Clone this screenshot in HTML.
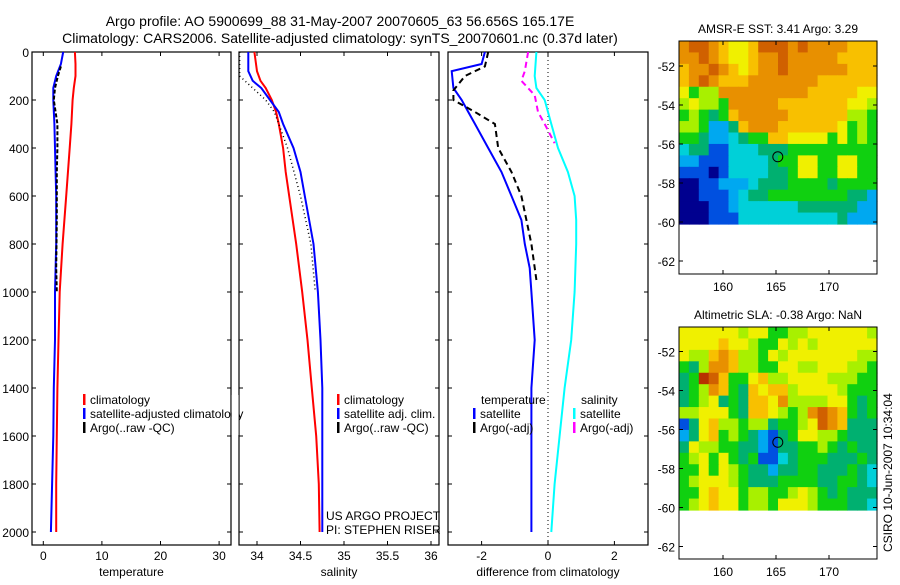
<!DOCTYPE html>
<html><head><meta charset="utf-8"><style>
body{margin:0;background:#fff;width:900px;height:580px;overflow:hidden}
svg{font-family:"Liberation Sans",sans-serif}
</style></head><body>
<svg id="c" width="900" height="580" xmlns="http://www.w3.org/2000/svg">
<text x="340" y="26" font-size="14" text-anchor="middle">Argo profile: AO 5900699_88 31-May-2007 20070605_63 56.656S 165.17E</text>
<text x="340" y="43" font-size="14" text-anchor="middle">Climatology: CARS2006. Satellite-adjusted climatology: synTS_20070601.nc (0.37d later)</text>
</svg>
<script>
// ---- data ----
const tDepth=[0,50,100,150,200,300,400,600,800,1000,1200,1400,1600,1800,2000];
const tClim=[5.4,5.5,5.5,5.2,5.0,4.8,4.5,3.9,3.3,2.8,2.6,2.4,2.3,2.2,2.2];
const tSat=[3.4,3.0,2.2,1.7,1.7,1.9,2.0,2.2,2.2,2.0,2.0,1.8,1.7,1.5,1.3];
const tArgoDepth=[60,100,150,200,300,400,500,700,900,1000];
const tArgo=[3.0,2.5,2.0,1.8,2.4,2.4,2.3,2.3,2.2,2.3];
const sDepth=[0,80,120,150,200,250,300,400,500,600,800,1000,1200,1400,1600,1800,2000];
const sClim=[33.97,34.0,34.04,34.1,34.17,34.22,34.25,34.3,34.33,34.37,34.45,34.52,34.58,34.63,34.68,34.71,34.72];
const sSat=[33.9,33.9,33.95,34.05,34.15,34.25,34.3,34.42,34.5,34.55,34.65,34.7,34.73,34.75,34.75,34.75,34.75];
const sArgoDepth=[0,100,150,200,250,300,400,600,800,1000];
const sArgo=[33.8,33.8,33.95,34.1,34.2,34.25,34.35,34.5,34.62,34.67];
const dDepth=[0,50,80,150,200,250,300,400,500,600,700,800,900,1000,1200,1400,2000];
const dTSat=[-1.9,-2.0,-2.9,-2.85,-2.6,-2.4,-2.2,-1.8,-1.4,-1.1,-0.8,-0.7,-0.55,-0.5,-0.4,-0.5,-0.5];
const dTArgoDepth=[0,60,100,160,200,250,300,400,500,600,700,800,950];
const dTArgo=[-1.8,-1.9,-2.5,-2.85,-2.85,-2.2,-1.6,-1.5,-1.1,-0.8,-0.65,-0.5,-0.35];
const dSDepth=[0,100,150,200,300,400,500,600,700,800,1000,1200,1400,1600,1800,2000];
const dSSat=[-0.35,-0.4,-0.35,-0.1,0.1,0.3,0.6,0.8,0.85,0.85,0.8,0.7,0.5,0.35,0.2,0.1];
const dSArgoDepth=[0,80,120,180,250,300,380];
const dSArgo=[-0.6,-0.7,-0.8,-0.4,-0.3,-0.1,0.2];
const depthTicks=[0,200,400,600,800,1000,1200,1400,1600,1800,2000];
const tTicks=[0,10,20,30];
const sTicks=[34,34.5,35,35.5,36];
const dTicks=[-2,0,2];
const latTicks=[-52,-54,-56,-58,-60,-62];
const lonTicks=[160,165,170];
const sstGrid=["9AA98778AAA9A9999888","99A9877899A999998888","899A987899A999999888","89A98889999999888888","75669999999998888877","67665999998888888776","56545899999888888665","66522489998888887565","55422345588777757565","34411333444555555555","22111333345577557755","11101333344577557755","00112223444555545555","00111234455555555442","00011233333344444422","00011133333333334222"];
const slaGrid=["77777767755667777776","77778776557676777777","76689866576777777766","54699866557766777665","45BA8557866777766655","45698548788677776555","45674548879666677545","66777548876569A98545","14786656645567A98444","24785654214577665444","47665544214455654544","56757545113455544454","55757654424455444543","56777654445555445543","55787756655676545444","56787756657776555443"];
const cmap=["#00008f","#0050e0","#00a8f0","#00d0d8","#00b070","#10d010","#a8f000","#f0f000","#f8c000","#e89000","#d06000","#b83000"];
// ---- drawing ----
const svg=document.getElementById('c');const NS="http://www.w3.org/2000/svg";
function el(tag,attrs,parent){const e=document.createElementNS(NS,tag);for(const k in attrs)e.setAttribute(k,attrs[k]);(parent||svg).appendChild(e);return e;}
function txt(x,y,s,size,anchor,name){const t=el('text',{x:x,y:y,'font-size':size,'text-anchor':anchor||'start'});t.textContent=s;


return t;}
const yD=d=>52+d*0.24;
const FB=545;
function panel(x0,x1,xs,ticks,label,name,showY){
 const r=el('rect',{x:x0,y:52,width:x1-x0,height:FB-52,fill:'none',stroke:'#000','stroke-width':1.2});
 
 
 depthTicks.forEach(d=>{el('line',{x1:x0,x2:x0+4,y1:yD(d),y2:yD(d),stroke:'#000'});el('line',{x1:x1,x2:x1-4,y1:yD(d),y2:yD(d),stroke:'#000'});
  if(showY)txt(x0-3,yD(d)+5,String(d),12,'end','depth-tick-label');});
 ticks.forEach(v=>{const x=xs(v);el('line',{x1:x,x2:x,y1:FB,y2:FB-4,stroke:'#000'});el('line',{x1:x,x2:x,y1:52,y2:56,stroke:'#000'});
  txt(x,560,String(v),12,'middle','x-tick-label');});
 txt((x0+x1)/2,576,label,12,'middle',name+'-x-axis-title');
}
function line(xs,vals,deps,color,w,dash,name){
 const p=vals.map((v,i)=>(i?'L':'M')+xs(v).toFixed(1)+' '+yD(deps[i]).toFixed(1)).join(' ');
 const a={d:p,fill:'none',stroke:color,'stroke-width':w};if(dash)a['stroke-dasharray']=dash;
 const e=el('path',a);
 
 
}
const xT=t=>43.3+t*5.86, xS=s=>257+(s-34)*87, xD=d=>548+d*33.2;
panel(32,231,xT,tTicks,'temperature','temperature-panel',true);
panel(239,439,xS,sTicks,'salinity','salinity-panel',false);
panel(448,648,xD,dTicks,'difference from climatology','difference-panel',false);
el('line',{x1:xD(0),x2:xD(0),y1:52,y2:FB,stroke:'#000','stroke-dasharray':'1 3'});
line(xT,tClim,tDepth,'#f00',2,null,'temp-climatology-line');
line(xT,tSat,tDepth,'#00f',2,null,'temp-satellite-line');
line(xT,tArgo,tArgoDepth,'#000',2,'4 2','temp-argo-line');
line(xS,sClim,sDepth,'#f00',2,null,'sal-climatology-line');
line(xS,sSat,sDepth,'#00f',2,null,'sal-satellite-line');
line(xS,sArgo,sArgoDepth,'#000',1.5,'1 3','sal-argo-line');
line(xD,dTSat,dDepth,'#00f',2,null,'diff-temp-satellite-line');
line(xD,dTArgo,dTArgoDepth,'#000',2,'6 4','diff-temp-argo-line');
line(xD,dSSat,dSDepth,'#0ff',2,null,'diff-sal-satellite-line');
line(xD,dSArgo,dSArgoDepth,'#f0f',2,'6 4','diff-sal-argo-line');
function leg(x,y,color,s,name){el('rect',{x:x,y:y-10,width:2.5,height:11,fill:color});txt(x+7,y,s,12,'start',name);}
leg(83,404,'#f00','climatology','legend-climatology');
leg(83,418,'#00f','satellite-adjusted climatology','legend-satellite');
leg(83,432,'#000','Argo(..raw -QC)','legend-argo');
leg(337,404,'#f00','climatology','legend-sal-climatology');
leg(337,418,'#00f','satellite adj. clim.','legend-sal-satellite');
leg(337,432,'#000','Argo(..raw -QC)','legend-sal-argo');
el('rect',{x:231.6,y:395,width:7,height:40,fill:'#fff'});
txt(481,404,'temperature',12,'start','legend-temp-header');
leg(473,418,'#00f','satellite','legend-diff-temp-sat');
leg(473,432,'#000','Argo(-adj)','legend-diff-temp-argo');
txt(581,404,'salinity',12,'start','legend-sal-header');
leg(573,418,'#0ff','satellite','legend-diff-sal-sat');
leg(573,432,'#f0f','Argo(-adj)','legend-diff-sal-argo');
txt(326,520,'US ARGO PROJECT',12,'start','project-credit');
txt(326,534,'PI: STEPHEN RISER',12,'start','pi-credit');
function map(top,lat52,imgBot,frameBot,grid,title,name){
 const x0=679,x1=877;
 const lat=l=>lat52+(-52-l)*19.5, lon=l=>723+(l-160)*10.6;
 const rows=grid.length,cols=grid[0].length,cw=(x1-x0)/cols,ch=(imgBot-top)/rows;
 grid.forEach((row,r)=>{for(let c=0;c<cols;c++){const v=parseInt(row[c],16);
  el('rect',{x:x0+c*cw,y:top+r*ch,width:cw+0.6,height:ch+0.6,fill:cmap[v]});}});
 const f=el('rect',{x:x0,y:top,width:x1-x0,height:frameBot-top,fill:'none',stroke:'#000'});
 
 
 latTicks.forEach(l=>{el('line',{x1:x0,x2:x0+4,y1:lat(l),y2:lat(l),stroke:'#000'});el('line',{x1:x1,x2:x1-4,y1:lat(l),y2:lat(l),stroke:'#000'});txt(x0-4,lat(l)+5,String(l),12,'end','lat-tick-label');});
 lonTicks.forEach(l=>{el('line',{x1:lon(l),x2:lon(l),y1:frameBot,y2:frameBot-4,stroke:'#000'});el('line',{x1:lon(l),x2:lon(l),y1:top,y2:top+4,stroke:'#000'});txt(lon(l),frameBot+17,String(l),12,'middle','lon-tick-label');});
 el('circle',{cx:lon(165.17),cy:lat(-56.656),r:5,fill:'none',stroke:'#000'});
 txt(778,top-8,title,12,'middle',name+'-title');
}
map(41,66,224,274,sstGrid,'AMSR-E SST: 3.41 Argo: 3.29','sst-map');
map(327,351.5,510,559,slaGrid,'Altimetric SLA: -0.38 Argo: NaN','sla-map');
const ct=txt(0,0,'CSIRO 10-Jun-2007 10:34:04',12,'start','timestamp');
ct.setAttribute('transform','translate(892,552) rotate(-90)');
</script>
</body></html>
